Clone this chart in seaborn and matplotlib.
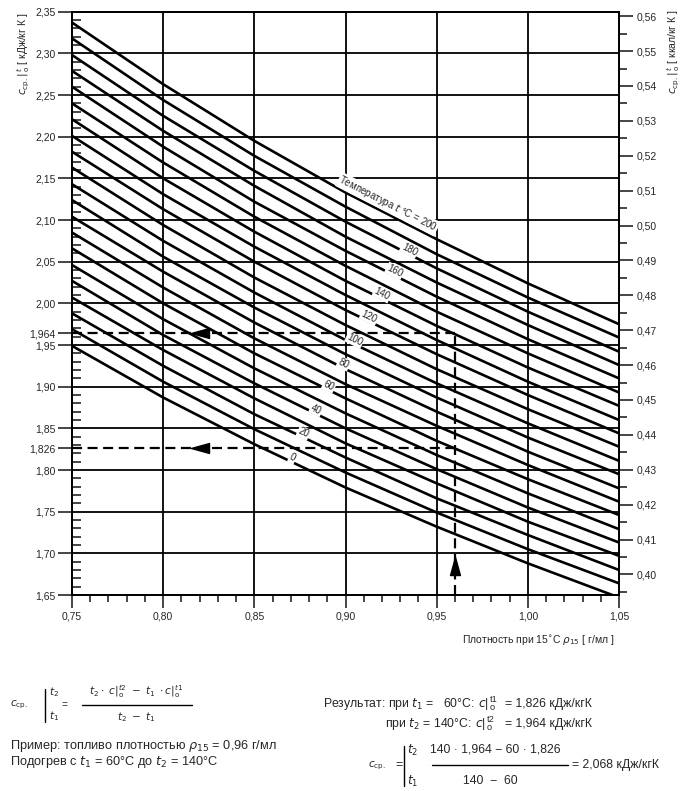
import numpy as np
import pandas as pd
import matplotlib
matplotlib.use("Agg")
import matplotlib.pyplot as plt
import seaborn as sns
from matplotlib.ticker import FixedLocator, MultipleLocator
from matplotlib.lines import Line2D

# ---------------- data ----------------
densities = [0.75, 0.80, 0.85, 0.90, 0.95, 1.00, 1.05]
temperatures = [0, 10, 20, 30, 40, 50, 60, 70, 80, 90, 100,
                110, 120, 130, 140, 150, 160, 170, 180, 190, 200]
heat_capacity = [
    [1.949, 1.887, 1.831, 1.779, 1.732, 1.688, 1.647],
    [1.969, 1.906, 1.849, 1.797, 1.749, 1.705, 1.664],
    [1.988, 1.925, 1.867, 1.815, 1.766, 1.722, 1.680],
    [2.007, 1.944, 1.886, 1.832, 1.784, 1.738, 1.697],
    [2.027, 1.962, 1.904, 1.850, 1.801, 1.755, 1.713],
    [2.046, 1.981, 1.922, 1.868, 1.818, 1.772, 1.729],
    [2.066, 2.000, 1.940, 1.886, 1.835, 1.789, 1.746],
    [2.085, 2.019, 1.958, 1.903, 1.853, 1.806, 1.762],
    [2.104, 2.038, 1.977, 1.921, 1.870, 1.822, 1.778],
    [2.124, 2.056, 1.995, 1.939, 1.887, 1.839, 1.795],
    [2.143, 2.075, 2.013, 1.956, 1.904, 1.856, 1.811],
    [2.163, 2.094, 2.031, 1.974, 1.921, 1.873, 1.828],
    [2.182, 2.113, 2.050, 1.992, 1.939, 1.890, 1.844],
    [2.201, 2.131, 2.068, 2.010, 1.956, 1.906, 1.860],
    [2.221, 2.150, 2.086, 2.027, 1.973, 1.923, 1.877],
    [2.240, 2.169, 2.104, 2.045, 1.990, 1.940, 1.893],
    [2.260, 2.188, 2.122, 2.063, 2.008, 1.957, 1.910],
    [2.279, 2.207, 2.141, 2.080, 2.025, 1.974, 1.926],
    [2.298, 2.225, 2.159, 2.098, 2.042, 1.990, 1.942],
    [2.318, 2.244, 2.177, 2.116, 2.059, 2.007, 1.959],
    [2.337, 2.263, 2.195, 2.133, 2.077, 2.024, 1.975],
]

labeled_temps = [0, 20, 40, 60, 80, 100, 120, 140, 160, 180, 200]
label_texts = ["0", "20", "40", "60", "80", "100", "120", "140", "160", "180",
               "Температура $t$ °C = 200"]
label_density = [0.870, 0.876, 0.883, 0.890, 0.898, 0.904, 0.912, 0.919,
                 0.926, 0.934, 0.921]

example_density = 0.96
example_temps = [60, 140]
example_c = [1.826, 1.964]
arrow_density = 0.82
arrow_up_c = 1.685

y_major = [1.65, 1.70, 1.75, 1.80, 1.85, 1.90, 1.95, 2.00, 2.05, 2.10,
           2.15, 2.20, 2.25, 2.30, 2.35]
x_major = [0.75, 0.80, 0.85, 0.90, 0.95, 1.00, 1.05]
kcal_major = [0.40, 0.41, 0.42, 0.43, 0.44, 0.45, 0.46, 0.47, 0.48,
              0.49, 0.50, 0.51, 0.52, 0.53, 0.54, 0.55, 0.56]
KJ_PER_KCAL = 4.1868

# ---------------- style ----------------
sns.set_style("white")
plt.rcParams["font.family"] = ["Liberation Sans", "DejaVu Sans"]
plt.rcParams["axes.edgecolor"] = "black"
plt.rcParams["axes.linewidth"] = 1.3

W, H = 682, 791
fig = plt.figure(figsize=(W / 100, H / 100), dpi=100)
fig.patch.set_facecolor("white")


def fx(x):
    return x / W


def fy(y):
    return 1 - y / H


left, right, top, bottom = 72, 619, 11.7, 595
ax = fig.add_axes([fx(left), fy(bottom), fx(right - left), (bottom - top) / H])
ax.set_xlim(0.75, 1.05)
ax.set_ylim(1.65, 2.35)

# grid lines (drawn from tick lists)
for v in y_major[1:-1]:
    ax.axhline(v, color="black", lw=1.3, zorder=1)
for v in x_major[1:-1]:
    ax.axvline(v, color="black", lw=1.3, zorder=1)

rows = []
for t, vals in zip(temperatures, heat_capacity):
    for d, c in zip(densities, vals):
        rows.append({"t": t, "d": d, "c": c})
df = pd.DataFrame(rows)
sns.lineplot(data=df, x="d", y="c", units="t", estimator=None, color="black",
             lw=1.9, ax=ax, legend=False, zorder=2)

# example dashed lines
dash = (4.5, 2.5)
for c in example_c:
    ax.plot([0.75, example_density], [c, c], color="black", lw=1.6,
            dashes=dash, zorder=3)
ax.plot([example_density, example_density], [1.65, max(example_c)],
        color="black", lw=1.6, dashes=dash, zorder=3)
left_arrow = [(-1, 0), (1, 0.55), (1, -0.55), (-1, 0)]
up_arrow = [(0, 1), (0.55, -1), (-0.55, -1), (0, 1)]
for c in example_c:
    ax.plot([arrow_density], [c], marker=left_arrow, markersize=13,
            color="black", zorder=4, ls="none")
ax.plot([example_density], [arrow_up_c], marker=up_arrow, markersize=13,
        color="black", zorder=4, ls="none")

ax.set_xlabel("")
ax.set_ylabel("")

# ticks
ax.xaxis.set_major_locator(FixedLocator(x_major))
ax.xaxis.set_minor_locator(MultipleLocator(0.01))
ax.set_xticklabels([f"{v:.2f}".replace(".", ",") for v in x_major])
yticks = y_major + example_c
ax.yaxis.set_major_locator(FixedLocator(yticks))
ax.set_yticklabels([f"{v:.2f}".replace(".", ",") for v in y_major] +
                   [f"{v:.3f}".replace(".", ",") for v in example_c])
ax.yaxis.set_minor_locator(MultipleLocator(0.01))
ax.tick_params(axis="x", which="major", direction="out", length=9, width=1.2,
               labelsize=7.5, pad=3, bottom=True)
ax.tick_params(axis="x", which="minor", direction="out", length=5, width=1.2,
               bottom=True)
ax.tick_params(axis="y", which="major", direction="out", length=10, width=1.2,
               labelsize=7.5, pad=2, left=True)
ax.tick_params(axis="y", which="minor", direction="in", length=6.5, width=1.2,
               left=True)

ax2 = ax.twinx()
ax2.set_ylim(1.65 / KJ_PER_KCAL, 2.35 / KJ_PER_KCAL)
ax2.yaxis.set_major_locator(FixedLocator(kcal_major))
ax2.set_yticklabels([f"{v:.2f}".replace(".", ",") for v in kcal_major])
ax2.yaxis.set_minor_locator(MultipleLocator(0.005))
ax2.tick_params(axis="y", which="major", direction="out", length=10, width=1.2,
                labelsize=7.5, pad=3, right=True)
ax2.tick_params(axis="y", which="minor", direction="out", length=6, width=1.2,
                right=True)
for sp in ax2.spines.values():
    sp.set_linewidth(1.3)

# curve labels (slightly above their curve, along the curve direction)
for t, txt, xd in zip(labeled_temps, label_texts, label_density):
    row = heat_capacity[temperatures.index(t)]
    yv = np.interp(xd, densities, row)
    p0 = ax.transData.transform((xd - 0.01, np.interp(xd - 0.01, densities, row)))
    p1 = ax.transData.transform((xd + 0.01, np.interp(xd + 0.01, densities, row)))
    ang = np.degrees(np.arctan2(p1[1] - p0[1], p1[0] - p0[0]))
    off = 6.5 if t == 200 else 3.0
    th = np.radians(ang)
    ax.annotate(txt, xy=(xd, yv), xytext=(-np.sin(th) * off, np.cos(th) * off),
                textcoords="offset points", rotation=ang,
                rotation_mode="anchor", ha="center", va="center",
                fontsize=7.0, zorder=5,
                bbox=dict(facecolor="white", edgecolor="none", pad=0.6))

# axis titles
fig.text(fx(24), fy(54), r"$c_{\mathrm{ср.}}|^{\,t}_{\,\mathrm{o}}$ [ кДж/кг К ]",
         rotation=90, ha="center", va="center", fontsize=7.5)
fig.text(fx(674), fy(52), r"$c_{\mathrm{ср.}}|^{\,t}_{\,\mathrm{o}}$ [ ккал/кг К ]",
         rotation=90, ha="center", va="center", fontsize=7.5)
fig.text(fx(614), fy(640), r"Плотность при 15$^{\circ}$C $\rho_{15}$ [ г/мл ]",
         ha="right", va="center", fontsize=7.5)

# ---------------- formulas below ----------------
fsl = 9.2
fsr = 8.8
sm = 7.5
renderer = fig.canvas.get_renderer()


def line(x0, y0, x1, y1, lw=1.0):
    fig.add_artist(Line2D([fx(x0), fx(x1)], [fy(y0), fy(y1)], color="black", lw=lw))


def put(x, y, s, size, **kw):
    t = fig.text(fx(x), fy(y), s, fontsize=size, va="center", **kw)
    bb = t.get_window_extent(renderer)
    return bb.x1  # pixel right edge


def c_bar(x, y, sup, size):
    """c|^sup_o drawn as separate small pieces."""
    xe = put(x, y, r"$c$|", size)
    put(xe + 1, y - 4, sup, size * 0.75)
    xe2 = put(xe + 1, y + 4, "o", size * 0.75)
    return xe2


fig.text(fx(10), fy(705), r"$c_{\mathrm{ср.}}$", fontsize=sm, va="center")
line(45, 689, 45, 722)
fig.text(fx(49), fy(692), r"$t_2$", fontsize=sm, va="center")
fig.text(fx(49), fy(716), r"$t_1$", fontsize=sm, va="center")
fig.text(fx(62), fy(705), "=", fontsize=sm, va="center")
fig.text(fx(136), fy(692),
         r"$t_2 \cdot\ c|^{t2}_{\mathrm{o}}\ -\ t_1\ \cdot c|^{t1}_{\mathrm{o}}$",
         fontsize=sm, ha="center", va="center")
line(82, 705, 192, 705)
fig.text(fx(136), fy(717), r"$t_2\ -\ t_1$", fontsize=sm, ha="center", va="center")

fig.text(fx(10), fy(746), r"Пример: топливо плотностью $\rho_{15}$ = 0,96 г/мл",
         fontsize=fsl, va="center")
fig.text(fx(10), fy(762), r"Подогрев с $t_1$ = 60°C до $t_2$ = 140°C",
         fontsize=fsl, va="center")

# result rows
xe = put(323, 704, r"Результат: при $t_1$ =   60°C: ", fsr)
c_bar(xe + 2, 704, "t1", fsr)
put(505, 704, "= 1,826 кДж/кгК", fsr)
xe = put(385, 724, r"при $t_2$ = 140°C: ", fsr)
c_bar(xe + 2, 724, "t2", fsr)
put(505, 724, "= 1,964 кДж/кгК", fsr)

fig.text(fx(368), fy(766), r"$c_{\mathrm{ср.}}$", fontsize=sm, va="center")
fig.text(fx(395), fy(765), "=", fontsize=fsr, va="center")
line(404, 746, 404, 786)
fig.text(fx(407), fy(750), r"$t_2$", fontsize=fsr, va="center")
fig.text(fx(407), fy(781), r"$t_1$", fontsize=fsr, va="center")
fig.text(fx(495), fy(750), "140 · 1,964 − 60 · 1,826", fontsize=fsr,
         ha="center", va="center")
line(432, 765, 568, 765)
fig.text(fx(572), fy(765), "= 2,068 кДж/кгК", fontsize=fsr, va="center")
fig.text(fx(490), fy(781), "140  −  60", fontsize=fsr, ha="center", va="center")

fig.savefig("out.png", dpi=100, facecolor="white")
